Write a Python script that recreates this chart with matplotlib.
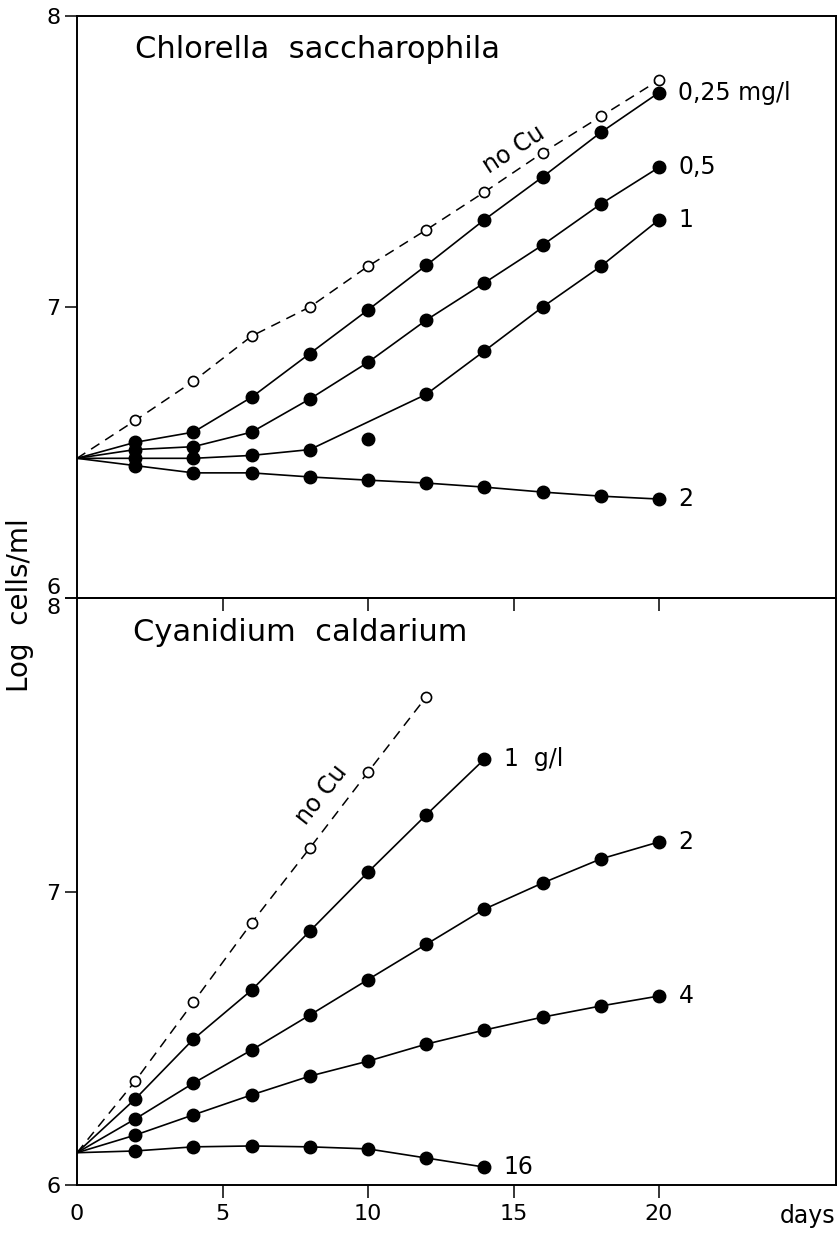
import matplotlib
matplotlib.use("Agg")
import matplotlib.pyplot as plt

# ── data (log cells/ml vs days) ─────────────────────────────────────────────
days = [0, 2, 4, 6, 8, 10, 12, 14, 16, 18, 20]

# Chlorella saccharophila, Cu in mg/l
chl_nocu = [6.48, 6.61, 6.745, 6.90, 7.00, 7.14, 7.265, 7.395, 7.53, 7.655, 7.78]
chl_025 = [6.48, 6.535, 6.57, 6.69, 6.84, 6.99, 7.143, 7.30, 7.447, 7.60, 7.737]
chl_05 = [6.48, 6.51, 6.52, 6.57, 6.684, 6.81, 6.955, 7.083, 7.213, 7.354, 7.48]
chl_1 = [6.48, 6.48, 6.48, 6.49, 6.51, 6.546, 6.70, 6.849, 7.00, 7.14, 7.30]
chl_2 = [6.48, 6.455, 6.43, 6.43, 6.416, 6.405, 6.395, 6.381, 6.364, 6.35, 6.34]
chl_1_offcurve = [10]          # point not on the drawn curve

# Cyanidium caldarium, Cu in g/l
cya_nocu = [6.11, 6.354, 6.623, 6.893, 7.148, 7.407, 7.663]
cya_1 = [6.11, 6.293, 6.497, 6.664, 6.865, 7.066, 7.261, 7.451]
cya_2 = [6.11, 6.225, 6.347, 6.46, 6.579, 6.70, 6.82, 6.94, 7.029, 7.111, 7.169]
cya_4 = [6.11, 6.17, 6.239, 6.307, 6.371, 6.422, 6.48, 6.528, 6.572, 6.61, 6.644]
cya_16 = [6.11, 6.116, 6.13, 6.133, 6.13, 6.123, 6.092, 6.061]

x_ticks = [0, 5, 10, 15, 20]
y_ticks = [6, 7, 8]

plt.rcParams["font.family"] = ["DejaVu Sans"]

W, H = 838, 1233
fig = plt.figure(figsize=(W / 100, H / 100), dpi=100)
fig.patch.set_facecolor("white")

left, right = 77 / W, 836 / W
ax_bot = fig.add_axes([left, 1 - 1185 / H, right - left, (1185 - 598) / H])
ax_top = fig.add_axes([left, 1 - 598 / H, right - left, (598 - 16) / H])
ax_top.patch.set_alpha(0)   # let the top panel's ticks show over the lower panel


def draw(ax, y, filled=True, skip=(), label=None):
    x = days[:len(y)]
    lx = [d for d in x if d not in skip]
    ly = [v for d, v in zip(x, y) if d not in skip]
    if filled:
        ax.plot(lx, ly, color="black", lw=1.2, zorder=2)
        ax.plot(x[1:], y[1:], "o", ms=9, mfc="black", mec="black", zorder=3)
    else:
        ax.plot(lx, ly, color="black", lw=1.1, ls=(0, (6.5, 4.5)), zorder=2)
        ax.plot(x[1:], y[1:], "o", ms=7.3, mfc="white", mec="black", mew=1.2, zorder=3)
    if label:
        ax.annotate(label, (x[-1], y[-1]), xytext=(14, 0), textcoords="offset points",
                    va="center", ha="left", fontsize=17)


# top panel
draw(ax_top, chl_nocu, filled=False)
draw(ax_top, chl_025, label="0,25 mg/l")
draw(ax_top, chl_05, label="0,5")
draw(ax_top, chl_1, skip=chl_1_offcurve, label="1")
draw(ax_top, chl_2, label="2")
ax_top.text(15.0, 7.54, "no Cu", rotation=33, ha="center", va="center", fontsize=17)
ax_top.text(0.076, 0.942, "Chlorella  saccharophila", transform=ax_top.transAxes,
            ha="left", va="center", fontsize=22)

# bottom panel
draw(ax_bot, cya_nocu, filled=False)
draw(ax_bot, cya_1, label="1  g/l")
draw(ax_bot, cya_2, label="2")
draw(ax_bot, cya_4, label="4")
draw(ax_bot, cya_16, label="16")
ax_bot.text(8.4, 7.33, "no Cu", rotation=52, ha="center", va="center", fontsize=17)
ax_bot.text(0.074, 0.942, "Cyanidium  caldarium", transform=ax_bot.transAxes,
            ha="left", va="center", fontsize=22)
ax_bot.text(0.963, -0.052, "days", transform=ax_bot.transAxes,
            ha="center", va="center", fontsize=17)

for ax in (ax_top, ax_bot):
    ax.set_xlim(0, 26.08)
    ax.set_ylim(6, 8)
    ax.set_xticks(x_ticks)
    ax.set_yticks(y_ticks)
    ax.set_yticklabels([str(t) for t in y_ticks])
    for s in ax.spines.values():
        s.set_linewidth(1.4)
    ax.tick_params(axis="y", direction="out", length=9, width=1.1, pad=3, labelsize=16)
    ax.tick_params(axis="x", direction="out", length=9, width=1.1, pad=5, labelsize=16)
    ax.xaxis.get_major_ticks()[0].tick1line.set_visible(False)

ax_top.tick_params(axis="x", labelbottom=False)
ax_top.get_yticklabels()[0].set_va("bottom")
ax_bot.get_yticklabels()[-1].set_va("top")

fig.text(20 / W, 1 - 605 / H, "Log  cells/ml", rotation=90, ha="center", va="center",
         fontsize=20)

fig.savefig("out.png", dpi=100, facecolor="white")
